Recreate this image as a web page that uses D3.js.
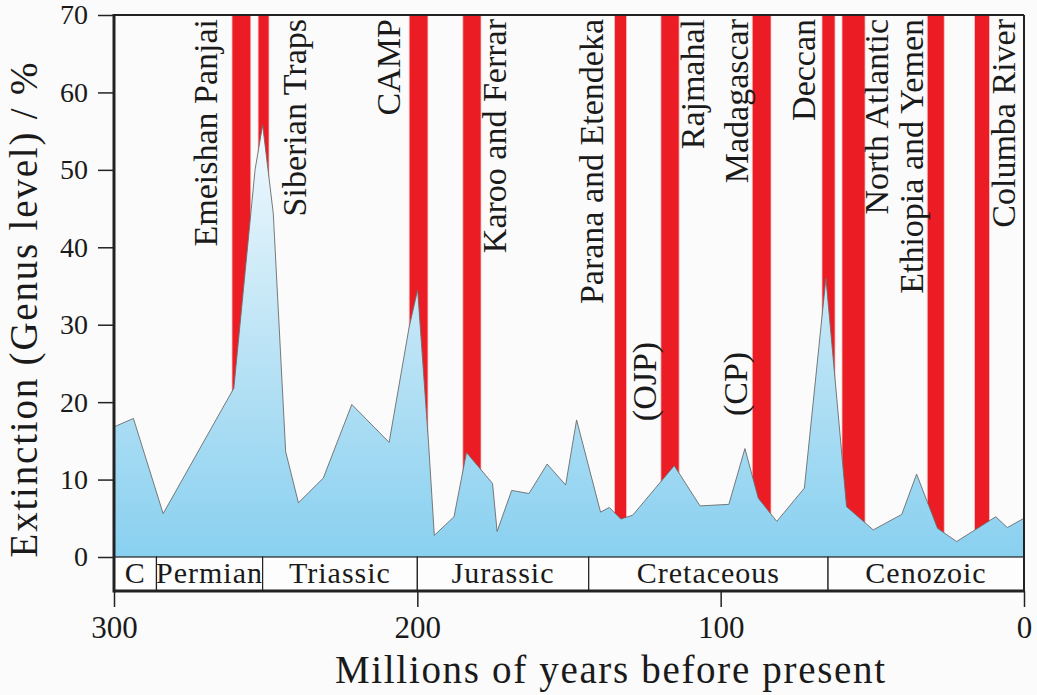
<!DOCTYPE html>
<html>
<head>
<meta charset="utf-8">
<script src="https://cdn.jsdelivr.net/npm/d3@7"></script>
<style>
  html, body { margin: 0; padding: 0; background: #fbfbfb; }
  svg { display: block; }
</style>
</head>
<body>
<svg id="chart" width="1037" height="695" font-family="Liberation Serif"></svg>
<script>
// ---------------- DATA ----------------
// Extinction profile (genus level, %) vs age (Ma)
const ages = [300, 293.6, 283.8, 260.5, 253.5, 251.0, 247.5, 243.4, 239.2, 231.0,
  221.6, 209.3, 202.7, 199.9, 196.3, 194.4, 187.9, 183.8, 175.2, 173.7,
  168.9, 163.2, 157.2, 151.1, 147.5, 139.6, 136.7, 132.9, 129.0, 115.3,
  106.8, 97.3, 92.0, 87.6, 81.5, 72.4, 65.3, 58.5, 49.7, 40.3,
  35.4, 28.5, 22.2, 9.3, 5.5, 0];
const extinction = [16.8, 17.9, 5.6, 21.8, 50.0, 55.8, 44.4, 13.6, 7.0, 10.2,
  19.7, 14.8, 29.7, 34.5, 14.7, 2.8, 5.2, 13.5, 9.5, 3.3,
  8.6, 8.2, 12.0, 9.3, 17.7, 5.8, 6.4, 4.9, 5.4, 11.8,
  6.6, 6.8, 14.0, 7.6, 4.6, 8.9, 36.0, 6.5, 3.5, 5.5,
  10.7, 3.7, 2.0, 5.2, 3.8, 5.0];

// Large igneous provinces (age ranges, Ma)
const lipNames = ["Emeishan Panjai", "Siberian Traps", "CAMP", "Karoo and Ferrar",
  "Parana and Etendeka", "Rajmahal", "Madagascar", "Deccan", "North Atlantic",
  "Ethiopia and Yemen", "Columba River"];
const lipOlder = [261.1, 252.5, 202.7, 185.0, 135.0, 119.7, 89.6, 66.6, 60.0, 31.9, 16.3];
const lipYounger = [254.9, 248.9, 196.5, 179.0, 131.0, 113.7, 83.4, 62.3, 52.4, 26.3, 11.4];
// secondary labels attached to a LIP bar
const subNames = ["(OJP)", "(CP)"];
const subOf = ["Rajmahal", "Madagascar"];

// Geological periods
const periodNames = ["C", "Permian", "Triassic", "Jurassic", "Cretaceous", "Cenozoic"];
const periodOlder = [300, 286, 251, 200, 143.5, 64.6];
const periodYounger = [286, 251, 200, 143.5, 64.6, 0];

const yTicks = [0, 10, 20, 30, 40, 50, 60, 70];
const xTicks = [300, 200, 100, 0];
const yTitle = "Extinction (Genus level) / %";
const xTitle = "Millions of years before present";

// ---------------- LAYOUT ----------------
const L = 114, R = 1024, T = 15, B = 557, stripB = 591;
const FONT = "Liberation Serif";
const INK = "#1a1a1a";
// label placement: side of bar and gap (px) to baseline
const lipLabelSide = ["L", "R", "L", "R", "L", "R", "L", "L", "R", "L", "R"];
const lipLabelGap  = [14.5, 36.5, 9.5, 24.5, 11.5, 25, 4.5, 6.5, 22.5, 4.5, 25.5];
const subCenterY = [381.5, 384];

const svg = d3.select("#chart");
const x = d3.scaleLinear().domain([300, 0]).range([L, R]);
const y = d3.scaleLinear().domain([0, 70]).range([B, T]);

// gradient for area
const defs = svg.append("defs");
const grad = defs.append("linearGradient").attr("id", "areaGrad")
  .attr("gradientUnits", "userSpaceOnUse").attr("x1", 0).attr("x2", 0)
  .attr("y1", y(56)).attr("y2", y(0));
grad.append("stop").attr("offset", "0%").attr("stop-color", "#f3fafe");
grad.append("stop").attr("offset", "45%").attr("stop-color", "#c2e6f6");
grad.append("stop").attr("offset", "100%").attr("stop-color", "#89d0f0");

// red bars
svg.append("g").selectAll("rect").data(lipNames).join("rect")
  .attr("x", (d, i) => x(lipOlder[i]))
  .attr("width", (d, i) => x(lipYounger[i]) - x(lipOlder[i]))
  .attr("y", y(70)).attr("height", y(0) - y(70))
  .attr("fill", "#ec1c24").attr("stroke", "#f6c9c9").attr("stroke-width", 0.8);

// area
const pts = ages.map((a, i) => [a, extinction[i]]);
const area = d3.area().x(d => x(d[0])).y0(y(0)).y1(d => y(d[1]));
const line = d3.line().x(d => x(d[0])).y(d => y(d[1]));
svg.append("path").datum(pts).attr("d", area).attr("fill", "url(#areaGrad)");
svg.append("path").datum(pts).attr("d", line).attr("fill", "none")
  .attr("stroke", "#6b6b6b").attr("stroke-width", 0.9);

// period strip
const pg = svg.append("g");
pg.selectAll("rect").data(periodNames).join("rect")
  .attr("x", (d, i) => x(periodOlder[i]))
  .attr("width", (d, i) => x(periodYounger[i]) - x(periodOlder[i]))
  .attr("y", B).attr("height", stripB - B)
  .attr("fill", "#fdfdfd").attr("stroke", "#222").attr("stroke-width", 1.2);
pg.selectAll("text").data(periodNames).join("text")
  .attr("x", (d, i) => (x(periodOlder[i]) + x(periodYounger[i])) / 2)
  .attr("y", 583).attr("text-anchor", "middle")
  .attr("font-family", FONT).attr("fill", INK)
  .attr("font-size", 30).attr("letter-spacing", 1)
  .text(d => d);

// frame
svg.append("line").attr("x1", L).attr("x2", R).attr("y1", T).attr("y2", T)
  .attr("stroke", "#222").attr("stroke-width", 2);
svg.append("line").attr("x1", R).attr("x2", R).attr("y1", T).attr("y2", stripB)
  .attr("stroke", "#222").attr("stroke-width", 2);

// axes
const yAxis = d3.axisLeft(y).tickValues(yTicks).tickSize(16).tickPadding(10);
const gy = svg.append("g").attr("transform", `translate(${L},0)`).call(yAxis);
gy.attr("font-family", FONT);
gy.select(".domain").remove();
gy.selectAll(".tick line").attr("stroke", "#222").attr("stroke-width", 1.5);
gy.selectAll(".tick text").attr("font-size", 28).attr("font-family", FONT).attr("fill", INK);
svg.append("line").attr("x1", L).attr("x2", L).attr("y1", T - 1).attr("y2", stripB + 1.5)
  .attr("stroke", "#222").attr("stroke-width", 3);

const xAxis = d3.axisBottom(x).tickValues(xTicks).tickSize(16).tickPadding(9);
const gx = svg.append("g").attr("transform", `translate(0,${stripB})`).call(xAxis);
gx.attr("font-family", FONT);
gx.select(".domain").remove();
gx.selectAll(".tick line").attr("stroke", "#222").attr("stroke-width", 1.5);
gx.selectAll(".tick text").attr("font-size", 31).attr("font-family", FONT).attr("fill", INK);
svg.append("line").attr("x1", L).attr("x2", R + 1).attr("y1", stripB).attr("y2", stripB)
  .attr("stroke", "#222").attr("stroke-width", 3);

// titles
svg.append("text").attr("x", 610).attr("y", 683).attr("text-anchor", "middle")
  .attr("font-family", FONT).attr("fill", INK)
  .attr("font-size", 39).attr("textLength", 550).attr("lengthAdjust", "spacing")
  .text(xTitle);
svg.append("text").attr("transform", "translate(37,310) rotate(-90)")
  .attr("text-anchor", "middle").attr("font-family", FONT).attr("fill", INK)
  .attr("font-size", 39).attr("textLength", 495).attr("lengthAdjust", "spacing")
  .text(yTitle);

// LIP labels
const lipBase = lipNames.map((d, i) => lipLabelSide[i] === "L"
  ? x(lipOlder[i]) - lipLabelGap[i]
  : x(lipYounger[i]) + lipLabelGap[i]);
svg.append("g").selectAll("text").data(lipNames).join("text")
  .attr("transform", (d, i) => `translate(${lipBase[i]},19) rotate(-90)`)
  .attr("text-anchor", "end").attr("font-size", 34)
  .attr("font-family", FONT).attr("fill", INK)
  .text(d => d);
// sub labels
svg.append("g").selectAll("text").data(subNames).join("text")
  .attr("transform", (d, i) => {
    const k = lipNames.indexOf(subOf[i]);
    return `translate(${x(lipOlder[k]) - 5},${subCenterY[i]}) rotate(-90)`;
  })
  .attr("text-anchor", "middle").attr("font-size", 34)
  .attr("font-family", FONT).attr("fill", INK)
  .text(d => d);
</script>
</body>
</html>
